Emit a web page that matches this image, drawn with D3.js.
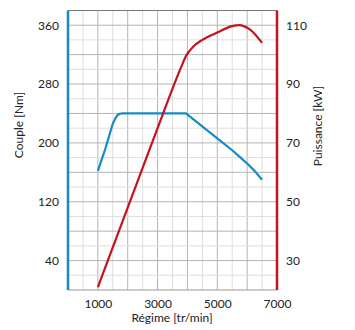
<!DOCTYPE html>
<html><head><meta charset="utf-8">
<script src="https://cdn.jsdelivr.net/npm/d3@7"></script>
<style>body{margin:0;background:#fff}svg{display:block}text{font-family:Lato,"Open Sans",sans-serif;fill:#222}</style>
</head><body><svg id="c" width="355" height="330"></svg>
<script>
const rpm = [1000,1250,1500,1580,1650,1720,1800,3950,5000,5500,5750,6000,6250,6500];
const torque = [162,192,226,233,237.5,239.5,240,240,206,190,181,172,162,150];
const rpmP = [1000,2000,3000,3800,3950,4050,4200,4500,5000,5500,5750,5900,6100,6500];
const power = [21,48,75,96,99.5,101,102.8,105,107.5,109.7,110,109.6,108.5,104];
const xTicks = [1000,3000,5000,7000];
const yTicksL = [40,120,200,280,360];
const yTicksR = [30,50,70,90,110];

const svg = d3.select("#c");
const L=68,R=277,T=10.5,B=290;
const x = d3.scaleLinear().domain([0,7000]).range([L,R]);
const yL = d3.scaleLinear().domain([0,380]).range([B,T]);
const yR = d3.scaleLinear().domain([20,115]).range([B,T]);
const blue="#138cc6", red="#c4121f";

const g = svg.append("g");
d3.range(500,7000,500).forEach(v=>{
  g.append("line").attr("x1",x(v)).attr("x2",x(v)).attr("y1",T).attr("y2",B)
   .attr("stroke", v%1000===0?"#b4b4b4":"#dedede").attr("stroke-width",1);
});
d3.range(20,380,20).forEach(v=>{
  g.append("line").attr("x1",L).attr("x2",R).attr("y1",yL(v)).attr("y2",yL(v))
   .attr("stroke", v%40===0?"#b4b4b4":"#dedede").attr("stroke-width",1);
});
g.append("line").attr("x1",L).attr("x2",R).attr("y1",T).attr("y2",T).attr("stroke","#777").attr("stroke-width",1.2);
g.append("line").attr("x1",L).attr("x2",R).attr("y1",B).attr("y2",B).attr("stroke","#999").attr("stroke-width",1.2);
g.append("line").attr("x1",L).attr("x2",L).attr("y1",T).attr("y2",B).attr("stroke",blue).attr("stroke-width",2.5);
g.append("line").attr("x1",R).attr("x2",R).attr("y1",T).attr("y2",B).attr("stroke",red).attr("stroke-width",2.5);

const lt = d3.line().x((d,i)=>x(rpm[i])).y(d=>yL(d)).curve(d3.curveLinear);
g.append("path").attr("d",lt(torque)).attr("fill","none").attr("stroke",blue).attr("stroke-width",2.2).attr("stroke-linejoin","round");
const lp = d3.line().x((d,i)=>x(rpmP[i])).y(d=>yR(d)).curve(d3.curveMonotoneX);
g.append("path").attr("d",lp(power)).attr("fill","none").attr("stroke",red).attr("stroke-width",2.2);

const fmt = d3.format("d");
const ax = d3.axisBottom(x).tickValues(xTicks).tickFormat(fmt).tickSize(0).tickPadding(9);
svg.append("g").attr("transform",`translate(0,${B})`).call(ax).call(s=>s.select(".domain").remove())
  .selectAll("text").attr("font-size",12);
const al = d3.axisLeft(yL).tickValues(yTicksL).tickFormat(fmt).tickSize(0).tickPadding(9);
svg.append("g").attr("transform",`translate(${L},0)`).call(al).call(s=>s.select(".domain").remove())
  .selectAll("text").attr("font-size",12);
const ar = d3.axisRight(yR).tickValues(yTicksR).tickFormat(fmt).tickSize(0).tickPadding(9);
svg.append("g").attr("transform",`translate(${R},0)`).call(ar).call(s=>s.select(".domain").remove())
  .selectAll("text").attr("font-size",12);
svg.selectAll(".tick text").style("font-family","Lato,'Open Sans',sans-serif").attr("fill","#222");

svg.append("text").attr("transform","translate(23,125) rotate(-90)").attr("text-anchor","middle").attr("font-size",12).text("Couple [Nm]");
svg.append("text").attr("transform","translate(322,126) rotate(-90)").attr("text-anchor","middle").attr("font-size",12).text("Puissance [kW]");
svg.append("text").attr("x",172).attr("y",322).attr("text-anchor","middle").attr("font-size",12).text("Régime [tr/min]");
</script></body></html>
